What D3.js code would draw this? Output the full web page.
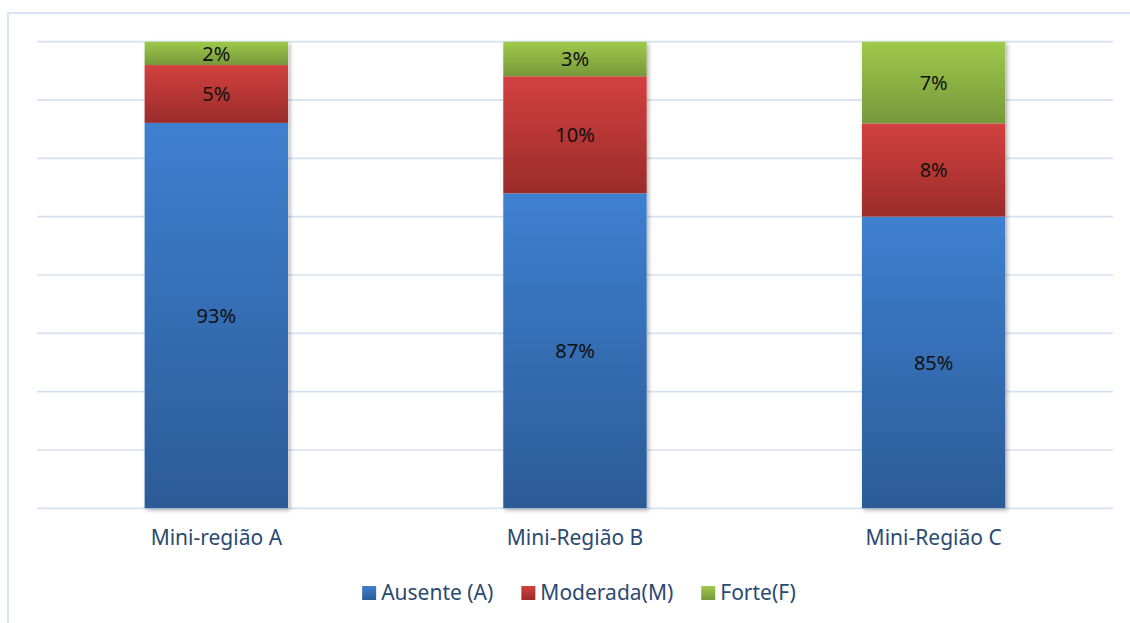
<!DOCTYPE html>
<html>
<head>
<meta charset="utf-8">
<script src="https://cdn.jsdelivr.net/npm/d3@7"></script>
<style>
  html, body { margin: 0; padding: 0; background: #fff; }
  svg { display: block; font-family: "Noto Sans", "Open Sans", sans-serif; }
</style>
</head>
<body>
<svg id="chart" width="1130" height="623"></svg>
<script>
// data
var categories = ['Mini-região A', 'Mini-Região B', 'Mini-Região C'];
var seriesNames = ['Ausente (A)', 'Moderada(M)', 'Forte(F)'];
// segment shares (bar heights, percent of full column)
var ausente  = [82.6, 67.5, 62.5];
var moderada = [12.4, 25.1, 20.0];
var forte    = [5.0, 7.4, 17.5];
// labels printed on the segments
var ausenteLabels  = ['93%', '87%', '85%'];
var moderadaLabels = ['5%', '10%', '8%'];
var forteLabels    = ['2%', '3%', '7%'];
var gridTicks = [0, 12.5, 25, 37.5, 50, 62.5, 75, 87.5, 100];

var width = 1130, height = 623;
var margin = {top: 41.7, right: 17, bottom: 623 - 508.3, left: 37};

var keys = ['ausente', 'moderada', 'forte'];
var rows = categories.map(function(c, i) {
  return {cat: c, ausente: ausente[i], moderada: moderada[i], forte: forte[i],
          labels: {ausente: ausenteLabels[i], moderada: moderadaLabels[i], forte: forteLabels[i]}};
});

var colors = {
  ausente:  ['#3e80d0', '#2c5b97'],
  moderada: ['#d2413f', '#9a2c2a'],
  forte:    ['#9fc94b', '#77983b']
};

var svg = d3.select('#chart');
var defs = svg.append('defs');

keys.forEach(function(k) {
  var g = defs.append('linearGradient')
    .attr('id', 'grad-' + k)
    .attr('x1', 0).attr('y1', 0).attr('x2', 0).attr('y2', 1);
  g.append('stop').attr('offset', '0%').attr('stop-color', colors[k][0]);
  g.append('stop').attr('offset', '100%').attr('stop-color', colors[k][1]);
});

var shadow = defs.append('filter').attr('id', 'shadow')
  .attr('x', '-10%').attr('y', '-10%').attr('width', '130%').attr('height', '130%');
shadow.append('feDropShadow')
  .attr('dx', 2).attr('dy', 2).attr('stdDeviation', 2)
  .attr('flood-color', '#000').attr('flood-opacity', 0.3);

// outer frame (only left and top visible)
svg.append('path')
  .attr('d', 'M8,623 L8,13 L1130,13')
  .attr('fill', 'none')
  .attr('stroke', '#d6e3f3')
  .attr('stroke-width', 1.8);

var x = d3.scaleBand()
  .domain(categories)
  .range([margin.left, width - margin.right])
  .paddingInner(0.6)
  .paddingOuter(0.3);

var y = d3.scaleLinear()
  .domain([0, 100])
  .range([height - margin.bottom, margin.top]);

// gridlines
svg.append('g')
  .selectAll('line')
  .data(gridTicks)
  .enter()
  .append('line')
  .attr('x1', margin.left)
  .attr('x2', width - margin.right)
  .attr('y1', function(d) { return y(d); })
  .attr('y2', function(d) { return y(d); })
  .attr('stroke', '#d5e1f1')
  .attr('stroke-width', 1.7);

// shadow under each full column
svg.append('g')
  .selectAll('rect')
  .data(rows)
  .enter()
  .append('rect')
  .attr('x', function(d) { return x(d.cat); })
  .attr('width', x.bandwidth())
  .attr('y', y(100))
  .attr('height', y(0) - y(100))
  .attr('fill', '#fff')
  .attr('filter', 'url(#shadow)');

var stacked = d3.stack().keys(keys)(rows);

var layers = svg.append('g').selectAll('g.layer')
  .data(stacked)
  .enter()
  .append('g')
  .attr('class', 'layer');

layers.selectAll('rect')
  .data(function(s) { return s.map(function(d) { d.key = s.key; return d; }); })
  .enter()
  .append('rect')
  .attr('x', function(d) { return x(d.data.cat); })
  .attr('width', x.bandwidth())
  .attr('y', function(d) { return y(d[1]); })
  .attr('height', function(d) { return y(d[0]) - y(d[1]); })
  .attr('fill', function(d) { return 'url(#grad-' + d.key + ')'; });

// data labels
layers.selectAll('text')
  .data(function(s) { return s; })
  .enter()
  .append('text')
  .attr('x', function(d) { return x(d.data.cat) + x.bandwidth() / 2; })
  .attr('y', function(d) { return (y(d[0]) + y(d[1])) / 2; })
  .attr('dy', '0.36em')
  .attr('text-anchor', 'middle')
  .attr('font-size', 20)
  .attr('fill', '#111')
  .text(function(d) { return d.data.labels[d.key]; });

// category axis labels
var xAxis = d3.axisBottom(x).tickSize(0).tickPadding(0);
var axisG = svg.append('g')
  .attr('transform', 'translate(0,' + (height - margin.bottom) + ')')
  .call(xAxis);
axisG.select('.domain').remove();
axisG.selectAll('text')
  .attr('dy', null)
  .attr('y', 37)
  .attr('font-size', 21)
  .attr('font-family', '"Noto Sans", "Open Sans", sans-serif')
  .attr('fill', '#2b4a72');

// legend
var legend = svg.append('g').attr('class', 'legend');
var items = legend.selectAll('g')
  .data(keys)
  .enter()
  .append('g');
items.append('rect')
  .attr('width', 14)
  .attr('height', 14)
  .attr('y', -14)
  .attr('fill', function(k) { return 'url(#grad-' + k + ')'; });
items.append('text')
  .attr('x', 19)
  .attr('font-size', 21)
  .attr('fill', '#2b4a72')
  .text(function(k, i) { return seriesNames[i]; });

var offsets = [], pos = 0;
items.each(function(k, i) {
  offsets.push(pos);
  var w = 19 + d3.select(this).select('text').node().getComputedTextLength();
  pos += w + 28;
});
var total = pos - 28;
var startX = 579 - total / 2;
items.attr('transform', function(k, i) {
  return 'translate(' + (startX + offsets[i]) + ',600)';
});
</script>
</body>
</html>
